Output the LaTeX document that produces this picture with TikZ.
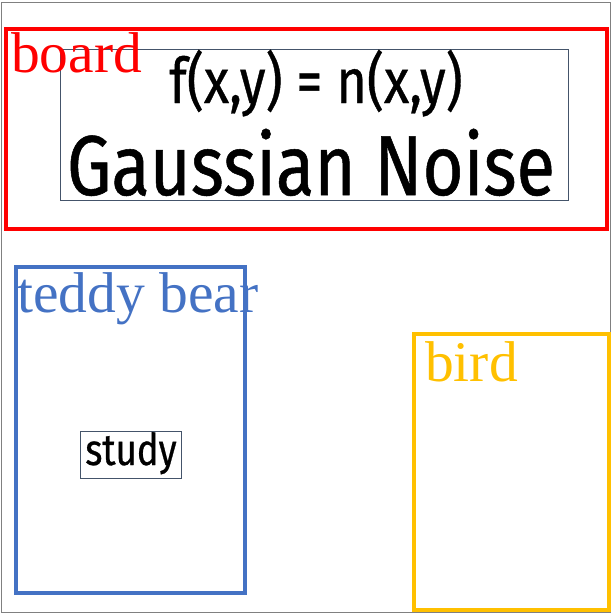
\documentclass[tikz,border=0pt]{standalone}
\usepackage{fontspec}
\setmainfont{Liberation Serif}
\newfontfamily\condfont[FakeStretch=0.83, FakeBold=0.6]{Fira Sans}
\definecolor{boxred}{HTML}{FF0000}
\definecolor{boxblue}{HTML}{4472C4}
\definecolor{boxorange}{HTML}{FFC000}
\definecolor{inkline}{HTML}{44546A}
\tikzset{
  catbox/.style={line width=4pt},
  catlabel/.style={inner sep=0pt, anchor=base west, font=\fontsize{57.5}{57.5}\selectfont},
  textbox/.style={draw=inkline, line width=1pt},
  condtext/.style={inner sep=0pt, anchor=base, text=black},
}
\begin{document}
\begin{tikzpicture}[x=1pt,y=-1pt]
\useasboundingbox (0,0) rectangle (612,614);
\draw[gray, line width=1pt] (1,2) rectangle (610,612);
% board
\draw[catbox, draw=boxred] (6,29) rectangle (607,229);
\draw[textbox] (60,49) rectangle (568,200);
\node[condtext, font=\condfont\fontsize{63}{63}\selectfont] (formula) at (316,103) {f(x,y) = n(x,y)};
\node[condtext, font=\condfont\fontsize{85}{85}\selectfont] (noise) at (311,195) {Gaussian Noise};
\node[catlabel, text=boxred] (boardlbl) at (11,72) {board};
% teddy bear
\draw[catbox, draw=boxblue] (15.8,266.7) rectangle (244.5,592.5);
\draw[textbox] (80,431) rectangle (181,478);
\node[condtext, font=\condfont\fontsize{44}{44}\selectfont] (study) at (131,465) {study};
\node[catlabel, text=boxblue] (teddylbl) at (17,312) {teddy bear};
% bird
\draw[catbox, draw=boxorange] (414,334) rectangle (609,610);
\node[catlabel, text=boxorange] (birdlbl) at (425,381) {bird};
\end{tikzpicture}
\end{document}
